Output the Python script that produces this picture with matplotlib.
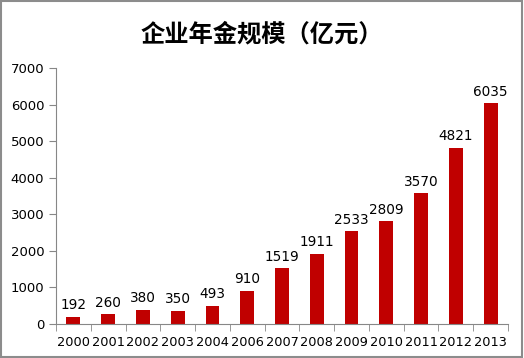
import numpy as np
import matplotlib
matplotlib.use('Agg')
import matplotlib.pyplot as plt
from matplotlib.patches import Rectangle

plt.rcParams['font.family'] = ['Noto Sans CJK SC', 'DejaVu Sans']

years = ['2000', '2001', '2002', '2003', '2004', '2006', '2007',
         '2008', '2009', '2010', '2011', '2012', '2013']
values = [192, 260, 380, 350, 493, 910, 1519, 1911, 2533, 2809, 3570, 4821, 6035]
title = '企业年金规模（亿元）'

fig = plt.figure(figsize=(5.24, 3.58), dpi=100)
ax = fig.add_axes([56/524, 1 - 324/358, (508-56)/524, (324-68)/358])

x = np.arange(len(years))
ax.bar(x, values, width=0.4, color='#C00000')
for xi, v in zip(x, values):
    ax.text(xi, v + 130, str(v), ha='center', va='bottom', fontsize=9.8,
            family='DejaVu Sans')

ax.set_xlim(-0.5, len(years) - 0.5)
ax.set_ylim(0, 7000)
ax.set_yticks(range(0, 7001, 1000))
ax.set_xticks(x)
ax.set_xticklabels(years, fontsize=9.3, family='DejaVu Sans')
ax.tick_params(axis='x', length=0, pad=9)
ax.set_xticks(np.arange(-0.5, len(years)), minor=True)
ax.tick_params(axis='x', which='minor', length=5, color='#878787', direction='out')
ax.tick_params(axis='y', length=5, color='#878787', labelsize=9.5)
for lab in ax.get_yticklabels():
    lab.set_family('DejaVu Sans')

for s in ['top', 'right']:
    ax.spines[s].set_visible(False)
for s in ['left', 'bottom']:
    ax.spines[s].set_color('#878787')

fig.text(0.5, 1 - 34/358, title, ha='center', va='center', fontsize=17.5,
         fontweight='bold')

fig.patches.append(Rectangle((0.002, 0.003), 0.995, 0.994, transform=fig.transFigure,
                             fill=False, edgecolor='#8c8c8c', linewidth=1.5))

fig.savefig('out.png', dpi=100)
